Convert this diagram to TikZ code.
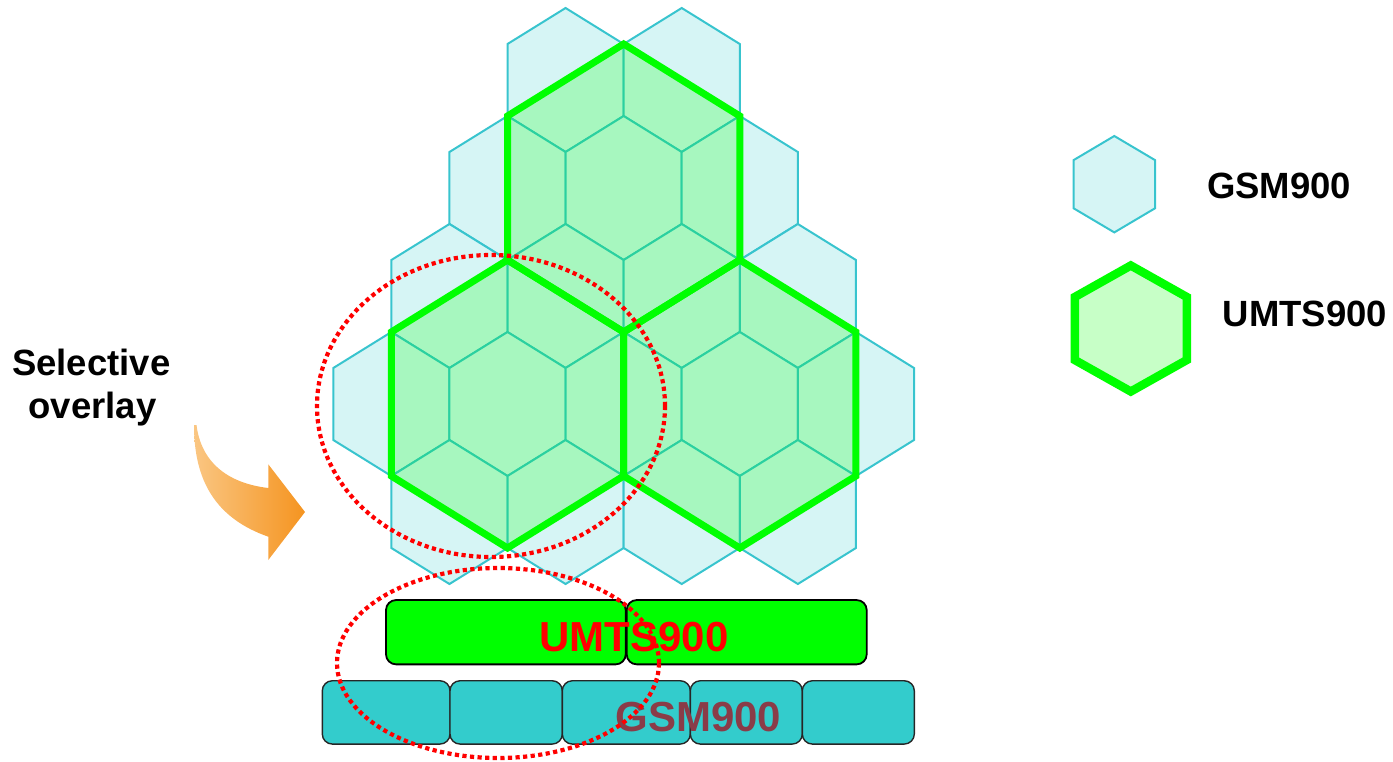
\documentclass[tikz,border=0pt]{standalone}
\usepackage{fontspec}
\setmainfont{Liberation Sans}
\usetikzlibrary{shapes.geometric}
\definecolor{hexfill}{RGB}{214,245,245}
\definecolor{hexline}{RGB}{56,196,206}
\definecolor{umtsgreen}{RGB}{0,255,0}
\definecolor{gsmbox}{RGB}{51,204,204}
\definecolor{gsmtext}{RGB}{138,60,72}
\definecolor{arrowL}{RGB}{250,198,130}
\definecolor{arrowR}{RGB}{245,148,32}
\newcommand{\hexat}[4]{({#1},{#2-#4}) -- ({#1+#3},{#2-#4/2}) -- ({#1+#3},{#2+#4/2}) -- ({#1},{#2+#4}) -- ({#1-#3},{#2+#4/2}) -- ({#1-#3},{#2-#4/2}) -- cycle}
\tikzset{
  smallhex/.style={draw=hexline, fill=hexfill, line width=2pt},
  bigfill/.style={fill=umtsgreen, fill opacity=0.22},
  bigline/.style={draw=umtsgreen, line width=7pt, line join=miter},
  reddots/.style={draw=red, line width=4.2pt, dash pattern=on 4.2pt off 3.4pt, ellipse, inner sep=0pt},
  umtsbox/.style={draw=black, fill=umtsgreen, line width=1.8pt, rounded corners=10pt, inner sep=0pt, minimum height=64.3pt},
  gsmboxst/.style={draw=black!85, fill=gsmbox, line width=1.4pt, rounded corners=10pt, inner sep=0pt, minimum height=63.3pt},
  lbl/.style={font=\fontsize{36.5}{43}\selectfont\bfseries, inner sep=0pt, anchor=base},
  bandlbl/.style={font=\fontsize{42}{48}\selectfont\bfseries, inner sep=0pt, anchor=base}
}
\begin{document}
\begin{tikzpicture}[x=1pt,y=-1pt]
\useasboundingbox (0,0) rectangle (1393,761);
% small GSM900 cells
\foreach \m/\r in {4/0,6/0,3/1,5/1,7/1,2/2,4/2,6/2,8/2,1/3,3/3,5/3,7/3,9/3,2/4,4/4,6/4,8/4}{
  \pgfmathsetmacro\cx{333.3+58.07*\m}
  \pgfmathsetmacro\cy{80+108*\r}
  \draw[smallhex] \hexat{\cx}{\cy}{58.07}{72};
}
% UMTS900 cells
\foreach \m/\r in {5/1,3/3,7/3}{
  \pgfmathsetmacro\cx{333.3+58.07*\m}
  \pgfmathsetmacro\cy{80+108*\r}
  \fill[bigfill] \hexat{\cx}{\cy}{116.14}{144};
}
\foreach \m/\r in {5/1,3/3,7/3}{
  \pgfmathsetmacro\cx{333.3+58.07*\m}
  \pgfmathsetmacro\cy{80+108*\r}
  \draw[bigline] \hexat{\cx}{\cy}{116.14}{144};
}
% spectrum bands
\node[umtsbox, minimum width=239.7pt] (u1) at (505.85,632.2) {};
\node[umtsbox, minimum width=240pt] (u2) at (746.7,632.2) {};
\node[gsmboxst, minimum width=127.7pt] (g1) at (386.15,712.4) {};
\node[gsmboxst, minimum width=112.3pt] (g2) at (506.15,712.4) {};
\node[gsmboxst, minimum width=128pt] (g3) at (626.3,712.4) {};
\node[gsmboxst, minimum width=112pt] (g4) at (746.3,712.4) {};
\node[gsmboxst, minimum width=112pt] (g5) at (858.3,712.4) {};
\node[bandlbl, text=red] (ulbl) at (634,651.7) {UMTS900};
\node[bandlbl, text=gsmtext] (glbl) at (698.4,731.7) {GSM900};
% selective overlay ellipses
\node[reddots, minimum width=348pt, minimum height=302pt] (e1) at (491,406) {};
\node[reddots, minimum width=322pt, minimum height=190pt] (e2) at (498,663) {};
% arrow and label
\shade[left color=arrowL, right color=arrowR]
  (196.5,425) .. controls (201,461) and (226,483) .. (268.3,488)
  -- (268.3,464.3) -- (305,512) -- (268.3,560) -- (268.3,536.7)
  .. controls (215,518) and (194,480) .. (194,425) -- cycle;
\node[lbl] (sel) at (91.2,375.5) {Selective};
\node[lbl] (ovl) at (92.5,418.3) {overlay};
% legend
\draw[smallhex] \hexat{1114.3}{184.2}{40.7}{48.2};
\draw[draw=umtsgreen, line width=8.5pt, line join=miter, fill=umtsgreen!22] \hexat{1130.8}{328.5}{56}{63};
\node[lbl] (lg) at (1279.2,198.3) {GSM900};
\node[lbl] (lu) at (1305,326.7) {UMTS900};
\end{tikzpicture}
\end{document}
